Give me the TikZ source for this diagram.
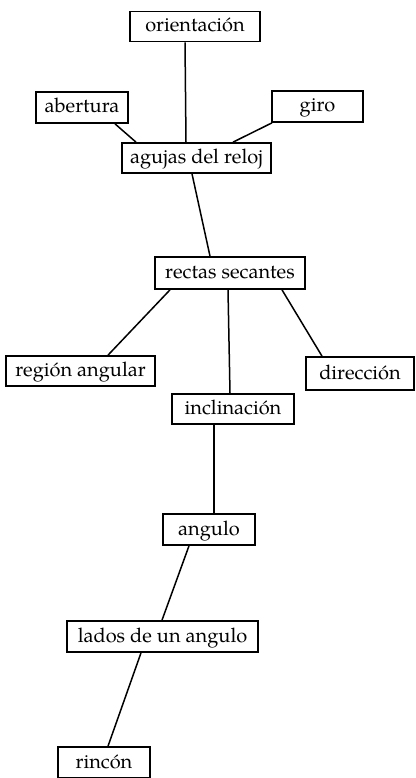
\documentclass[tikz,border=0pt]{standalone}
\usepackage{fontspec}
\setmainfont{TeX Gyre Pagella}
\begin{document}
\begin{tikzpicture}[x=1pt,y=-1pt,
  box/.style={draw,line width=1.7pt,inner sep=0pt,minimum height=#1,font=\fontsize{20}{22}\selectfont,text height=14pt,text depth=3pt},
  box/.default=31pt,
  conn/.style={line width=1.5pt}]
\useasboundingbox (0,0) rectangle (415,778);
\node[box=30pt,minimum width=130pt] (orient) at (195,26.5) {orientación};
\node[box,minimum width=92pt] (abert) at (82,107.5) {abertura};
\node[box,minimum width=91pt] (giro) at (317.5,106.5) {giro};
\node[box=30pt,minimum width=149pt] (agujas) at (196.5,158) {agujas del reloj};
\node[box=32pt,minimum width=150pt] (rectas) at (230,273) {rectas secantes};
\node[box=30pt,minimum width=149pt] (region) at (80.5,371) {región angular};
\node[box=33pt,minimum width=108pt] (direc) at (360,373.5) {dirección};
\node[box=30pt,minimum width=122pt] (inclin) at (233,409) {inclinación};
\node[box,minimum width=92pt] (angulo) at (209,529.5) {angulo};
\node[box,minimum width=191pt] (lados) at (162.5,636.5) {lados de un angulo};
\node[box,minimum width=92pt] (rincon) at (104,762.5) {rincón};
\draw[conn] ([xshift=-10pt]orient.south) -- ([xshift=-10.5pt]agujas.north);
\draw[conn] ([xshift=33pt]abert.south) -- ([xshift=-60.5pt]agujas.north);
\draw[conn] ([xshift=-45.5pt]giro.south) -- ([xshift=36.5pt]agujas.north);
\draw[conn] ([xshift=-4.5pt]agujas.south) -- ([xshift=-20pt]rectas.north);
\draw[conn] ([xshift=-60pt]rectas.south) -- ([xshift=27.5pt]region.north);
\draw[conn] ([xshift=-2pt]rectas.south) -- ([xshift=-3pt]inclin.north);
\draw[conn] ([xshift=52pt]rectas.south) -- ([xshift=-38pt]direc.north);
\draw[conn] ([xshift=-19pt]inclin.south) -- ([xshift=5pt]angulo.north);
\draw[conn] ([xshift=-20pt]angulo.south) -- ([xshift=-0.5pt]lados.north);
\draw[conn] ([xshift=-21.5pt]lados.south) -- ([xshift=4pt]rincon.north);
\end{tikzpicture}
\end{document}
